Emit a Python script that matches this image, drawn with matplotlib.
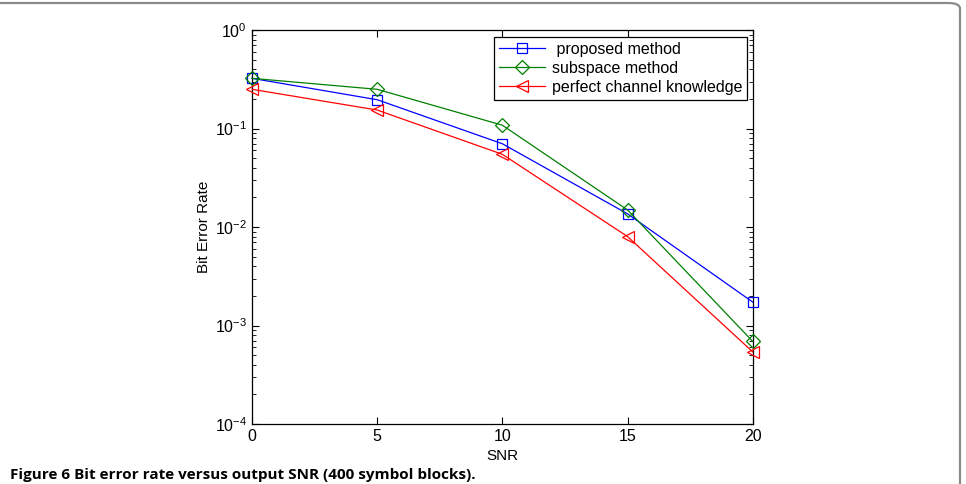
import matplotlib
matplotlib.use("Agg")
import matplotlib.pyplot as plt
import matplotlib.patches as patches

# values
snr = [0, 5, 10, 15, 20]
ber_proposed = [0.323, 0.196, 0.070, 0.0136, 0.00173]
ber_subspace = [0.323, 0.250, 0.108, 0.0149, 0.00069]
ber_perfect = [0.250, 0.154, 0.0547, 0.0080, 0.00054]
labels = [" proposed method", "subspace method", "perfect channel knowledge"]
caption = "Figure 6 Bit error rate versus output SNR (400 symbol blocks)."

plt.rcParams.update({
    "font.family": ["Liberation Sans", "DejaVu Sans"],
    "font.size": 11,
    "mathtext.default": "regular",
})

fig = plt.figure(figsize=(9.66, 4.84), dpi=100)
ax = fig.add_axes([252 / 966, 1 - 424 / 484, 500.7 / 966, 394 / 484])

ax.semilogy(snr, ber_proposed, color="#0000ff", marker="s", mfc="none",
            ms=7, lw=0.9, mew=0.9, label=labels[0], clip_on=False, zorder=3)
ax.semilogy(snr, ber_subspace, color="#008000", marker="D", mfc="none",
            ms=7, lw=0.9, mew=0.9, label=labels[1], clip_on=False, zorder=3)
ax.semilogy(snr, ber_perfect, color="#ff0000", marker="<", mfc="none",
            ms=8, lw=0.9, mew=0.9, label=labels[2], clip_on=False, zorder=3)

ax.set_xlim(0, 20)
ax.set_ylim(1e-4, 1)
ax.set_xticks(snr)
ax.set_xlabel("SNR", labelpad=4)
ax.set_ylabel("Bit Error Rate", labelpad=3)
ax.tick_params(which="both", direction="in", top=True, right=True)
ax.tick_params(which="major", length=5, width=0.8, labelsize=11.5)
ax.tick_params(which="minor", length=3, width=0.6)
for s in ax.spines.values():
    s.set_linewidth(0.9)

leg = ax.legend(loc="upper right", bbox_to_anchor=(0.9886, 0.982),
                fancybox=False, edgecolor="black", framealpha=1,
                fontsize=11.5, handlelength=2.9, borderpad=0.3,
                labelspacing=0.25, handletextpad=0.4, borderaxespad=0)
leg.get_frame().set_linewidth(0.9)

# page frame (top and right edges visible)
frame = patches.FancyBboxPatch((-0.05, -0.1), 0.05 + 960 / 966, 0.1 + (484 - 3) / 484,
                               boxstyle="round,pad=0,rounding_size=0.012",
                               transform=fig.transFigure, fill=False,
                               edgecolor="#8a8a8a", linewidth=1.6, clip_on=False)
fig.patches.append(frame)

fig.text(10 / 966, 1 - 468 / 484, caption, fontsize=11, fontweight="bold",
         family=["Open Sans", "DejaVu Sans"], ha="left", va="top")

fig.savefig("out.png", dpi=100)
